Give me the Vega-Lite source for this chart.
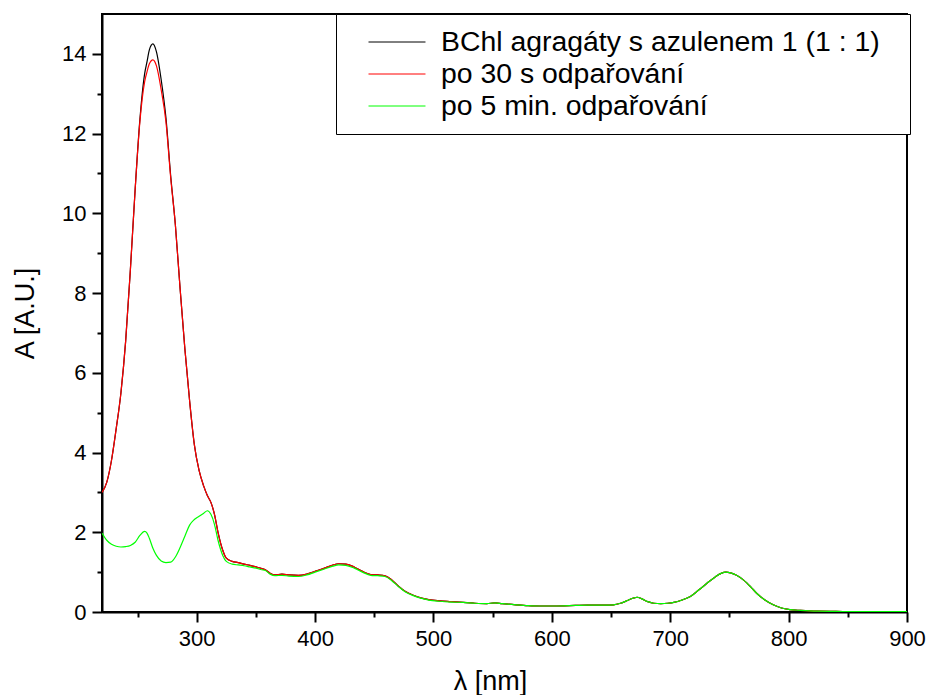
{
  "$schema": "https://vega.github.io/schema/vega-lite/v6.json",
  "width": 805,
  "height": 598,
  "autosize": {"type": "none"},
  "padding": {"left": 102, "top": 14, "right": 22, "bottom": 83},
  "background": "white",
  "config": {
    "font": "Liberation Sans",
    "view": {"stroke": "black", "strokeWidth": 2},
    "axis": {
      "grid": false,
      "domainColor": "black",
      "domainWidth": 2,
      "tickColor": "black",
      "tickWidth": 2,
      "labelColor": "black",
      "labelFontSize": 22,
      "titleFontSize": 27,
      "titleFontWeight": "normal",
      "titleColor": "black",
      "labelFlush": false,
      "labelOverlap": false
    }
  },
  "data": {
    "values": [
      {"nm": 220, "k": 3.0, "r": 3.0, "g": 1.98},
      {"nm": 224, "k": 3.25, "r": 3.25, "g": 1.8},
      {"nm": 228, "k": 3.8, "r": 3.8, "g": 1.7},
      {"nm": 232, "k": 4.6, "r": 4.6, "g": 1.65},
      {"nm": 236, "k": 5.5, "r": 5.5, "g": 1.63},
      {"nm": 240, "k": 6.8, "r": 6.8, "g": 1.64},
      {"nm": 244, "k": 8.6, "r": 8.6, "g": 1.67},
      {"nm": 248, "k": 10.6, "r": 10.6, "g": 1.75},
      {"nm": 252, "k": 12.35, "r": 12.3, "g": 1.92},
      {"nm": 256, "k": 13.5, "r": 13.3, "g": 2.02},
      {"nm": 258, "k": 13.8, "r": 13.55, "g": 1.98},
      {"nm": 260, "k": 14.1, "r": 13.75, "g": 1.85},
      {"nm": 263, "k": 14.25, "r": 13.85, "g": 1.6},
      {"nm": 266, "k": 14.05, "r": 13.7, "g": 1.42},
      {"nm": 270, "k": 13.35, "r": 13.1, "g": 1.28},
      {"nm": 274, "k": 12.4, "r": 12.3, "g": 1.24},
      {"nm": 278, "k": 10.95, "r": 10.9, "g": 1.25},
      {"nm": 282, "k": 9.7, "r": 9.7, "g": 1.38},
      {"nm": 286, "k": 8.1, "r": 8.1, "g": 1.62},
      {"nm": 290, "k": 6.6, "r": 6.6, "g": 1.9},
      {"nm": 294, "k": 5.3, "r": 5.3, "g": 2.18},
      {"nm": 298, "k": 4.2, "r": 4.2, "g": 2.32},
      {"nm": 302, "k": 3.55, "r": 3.55, "g": 2.4},
      {"nm": 306, "k": 3.15, "r": 3.15, "g": 2.48},
      {"nm": 309, "k": 2.92, "r": 2.92, "g": 2.54},
      {"nm": 312, "k": 2.75, "r": 2.75, "g": 2.45},
      {"nm": 315, "k": 2.45, "r": 2.45, "g": 2.2},
      {"nm": 318, "k": 2.0, "r": 2.0, "g": 1.8},
      {"nm": 322, "k": 1.55, "r": 1.55, "g": 1.42},
      {"nm": 325, "k": 1.35, "r": 1.35, "g": 1.27},
      {"nm": 330, "k": 1.27, "r": 1.27, "g": 1.2},
      {"nm": 335, "k": 1.24, "r": 1.24, "g": 1.18},
      {"nm": 340, "k": 1.2, "r": 1.2, "g": 1.16},
      {"nm": 345, "k": 1.17, "r": 1.17, "g": 1.13},
      {"nm": 350, "k": 1.13, "r": 1.13, "g": 1.1},
      {"nm": 355, "k": 1.09, "r": 1.09, "g": 1.06},
      {"nm": 358, "k": 1.06, "r": 1.06, "g": 1.04},
      {"nm": 362, "k": 0.97, "r": 0.97, "g": 0.95},
      {"nm": 366, "k": 0.93, "r": 0.93, "g": 0.91},
      {"nm": 372, "k": 0.95, "r": 0.95, "g": 0.92},
      {"nm": 378, "k": 0.93, "r": 0.93, "g": 0.9},
      {"nm": 386, "k": 0.92, "r": 0.92, "g": 0.89},
      {"nm": 393, "k": 0.95, "r": 0.95, "g": 0.93},
      {"nm": 400, "k": 1.02, "r": 1.02, "g": 1.0},
      {"nm": 408, "k": 1.1, "r": 1.1, "g": 1.08},
      {"nm": 415, "k": 1.18, "r": 1.18, "g": 1.15},
      {"nm": 420, "k": 1.21, "r": 1.21, "g": 1.18},
      {"nm": 426, "k": 1.2, "r": 1.2, "g": 1.17},
      {"nm": 433, "k": 1.13, "r": 1.13, "g": 1.1},
      {"nm": 440, "k": 1.02, "r": 1.02, "g": 1.0},
      {"nm": 447, "k": 0.94, "r": 0.94, "g": 0.92},
      {"nm": 453, "k": 0.93, "r": 0.93, "g": 0.91},
      {"nm": 459, "k": 0.91, "r": 0.91, "g": 0.89},
      {"nm": 465, "k": 0.8, "r": 0.8, "g": 0.78},
      {"nm": 470, "k": 0.66, "r": 0.66, "g": 0.65},
      {"nm": 476, "k": 0.52, "r": 0.52, "g": 0.51},
      {"nm": 483, "k": 0.42, "r": 0.42, "g": 0.41},
      {"nm": 490, "k": 0.35, "r": 0.35, "g": 0.34},
      {"nm": 496, "k": 0.31, "r": 0.31, "g": 0.3},
      {"nm": 505, "k": 0.28, "r": 0.28, "g": 0.27},
      {"nm": 515, "k": 0.26, "r": 0.26, "g": 0.25},
      {"nm": 525, "k": 0.24, "r": 0.24, "g": 0.24},
      {"nm": 535, "k": 0.22, "r": 0.22, "g": 0.22},
      {"nm": 545, "k": 0.21, "r": 0.21, "g": 0.21},
      {"nm": 552, "k": 0.23, "r": 0.23, "g": 0.23},
      {"nm": 558, "k": 0.21, "r": 0.21, "g": 0.21},
      {"nm": 570, "k": 0.18, "r": 0.18, "g": 0.18},
      {"nm": 580, "k": 0.16, "r": 0.16, "g": 0.16},
      {"nm": 590, "k": 0.15, "r": 0.15, "g": 0.15},
      {"nm": 600, "k": 0.15, "r": 0.15, "g": 0.15},
      {"nm": 615, "k": 0.16, "r": 0.16, "g": 0.16},
      {"nm": 630, "k": 0.17, "r": 0.17, "g": 0.17},
      {"nm": 645, "k": 0.17, "r": 0.17, "g": 0.17},
      {"nm": 652, "k": 0.18, "r": 0.18, "g": 0.18},
      {"nm": 658, "k": 0.22, "r": 0.22, "g": 0.22},
      {"nm": 664, "k": 0.29, "r": 0.29, "g": 0.29},
      {"nm": 669, "k": 0.35, "r": 0.35, "g": 0.35},
      {"nm": 672, "k": 0.37, "r": 0.37, "g": 0.37},
      {"nm": 676, "k": 0.33, "r": 0.33, "g": 0.33},
      {"nm": 681, "k": 0.26, "r": 0.26, "g": 0.26},
      {"nm": 686, "k": 0.22, "r": 0.22, "g": 0.22},
      {"nm": 692, "k": 0.21, "r": 0.21, "g": 0.21},
      {"nm": 698, "k": 0.22, "r": 0.22, "g": 0.22},
      {"nm": 703, "k": 0.24, "r": 0.24, "g": 0.24},
      {"nm": 710, "k": 0.3, "r": 0.3, "g": 0.3},
      {"nm": 717, "k": 0.39, "r": 0.39, "g": 0.39},
      {"nm": 724, "k": 0.55, "r": 0.55, "g": 0.55},
      {"nm": 731, "k": 0.72, "r": 0.72, "g": 0.72},
      {"nm": 738, "k": 0.88, "r": 0.88, "g": 0.88},
      {"nm": 743, "k": 0.97, "r": 0.97, "g": 0.97},
      {"nm": 747, "k": 1.0, "r": 1.0, "g": 1.0},
      {"nm": 751, "k": 0.98, "r": 0.98, "g": 0.98},
      {"nm": 756, "k": 0.92, "r": 0.92, "g": 0.92},
      {"nm": 762, "k": 0.8, "r": 0.8, "g": 0.8},
      {"nm": 768, "k": 0.63, "r": 0.63, "g": 0.63},
      {"nm": 773, "k": 0.47, "r": 0.47, "g": 0.47},
      {"nm": 780, "k": 0.3, "r": 0.3, "g": 0.3},
      {"nm": 787, "k": 0.18, "r": 0.18, "g": 0.18},
      {"nm": 794, "k": 0.1, "r": 0.1, "g": 0.1},
      {"nm": 801, "k": 0.06, "r": 0.06, "g": 0.06},
      {"nm": 810, "k": 0.04, "r": 0.04, "g": 0.04},
      {"nm": 824, "k": 0.02, "r": 0.02, "g": 0.02},
      {"nm": 840, "k": 0.015, "r": 0.015, "g": 0.015},
      {"nm": 860, "k": 0.01, "r": 0.01, "g": 0.01},
      {"nm": 880, "k": 0.01, "r": 0.01, "g": 0.01},
      {"nm": 900, "k": 0.01, "r": 0.01, "g": 0.01}
    ]
  },
  "transform": [{"fold": ["k", "r", "g"], "as": ["s", "A"]}],
  "mark": {"type": "line", "strokeWidth": 1.2, "interpolate": "monotone", "clip": true},
  "encoding": {
    "x": {
      "field": "nm",
      "type": "quantitative",
      "scale": {"domain": [220, 900], "nice": false, "zero": false},
      "axis": {
        "title": "λ [nm]",
        "titleX": 388,
        "values": [250, 300, 350, 400, 450, 500, 550, 600, 650, 700, 750, 800, 850, 900],
        "labelExpr": "datum.value % 100 === 0 ? datum.label : ''",
        "tickSize": {"condition": {"test": "datum.value % 100 === 0", "value": 10}, "value": 5},
        "labelPadding": 6,
        "titlePadding": 19
      }
    },
    "y": {
      "field": "A",
      "type": "quantitative",
      "scale": {"domain": [0, 15], "nice": false},
      "axis": {
        "title": "A [A.U.]",
        "values": [0, 1, 2, 3, 4, 5, 6, 7, 8, 9, 10, 11, 12, 13, 14],
        "labelExpr": "datum.value % 2 === 0 ? datum.label : ''",
        "tickSize": {"condition": {"test": "datum.value % 2 === 0", "value": 10}, "value": 5},
        "labelPadding": 6,
        "titlePadding": 22
      }
    },
    "color": {
      "field": "s",
      "type": "nominal",
      "sort": ["k", "r", "g"],
      "scale": {"domain": ["k", "r", "g"], "range": ["#000000", "#ff0000", "#00ff00"]},
      "legend": {
        "title": "|",
        "titleOrient": "right",
        "titleColor": "white",
        "titleFontSize": 12,
        "titlePadding": 13,
        "orient": "none",
        "legendX": 234,
        "legendY": 0,
        "fillColor": "white",
        "strokeColor": "black",
        "padding": 13,
        "symbolOffset": 33,
        "symbolType": "M-2,0H2",
        "symbolSize": 812,
        "symbolStrokeWidth": 1,
        "labelFontSize": 28.4,
        "labelColor": "black",
        "labelOffset": 29,
        "labelLimit": 700,
        "rowPadding": 2,
        "labelExpr": "datum.label === 'k' ? 'BChl agragáty s azulenem 1 (1 : 1)' : datum.label === 'r' ? 'po 30 s odpařování' : 'po 5 min. odpařování'"
      }
    }
  }
}
